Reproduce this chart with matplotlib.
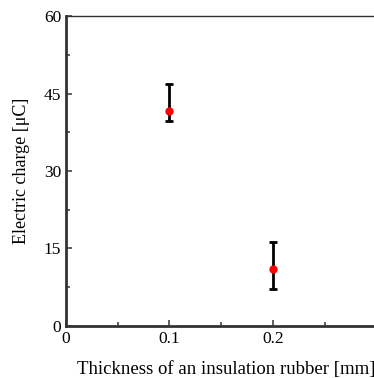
"""Electric charge vs. insulation rubber thickness."""

import matplotlib
matplotlib.use("Agg")
import matplotlib.pyplot as plt
from matplotlib.ticker import MultipleLocator

# Data
thickness = [0.1, 0.2]          # mm
charge = [41.6, 11.0]           # uC
err_low = [1.9, 3.8]
err_high = [5.2, 5.3]

plt.rcParams["font.family"] = ["Liberation Serif", "DejaVu Serif"]

fig = plt.figure(figsize=(3.74, 3.78), dpi=100)
ax = fig.add_axes([0.1765, 0.1376, 0.83, 0.82])

ax.errorbar(thickness, charge, yerr=[err_low, err_high], fmt="o",
            color="red", markersize=5, ecolor="black", elinewidth=2,
            capsize=3, capthick=2, zorder=3)

ax.set_xlim(0, 0.3)
ax.set_ylim(0, 60)
ax.xaxis.set_major_locator(MultipleLocator(0.1))
ax.xaxis.set_minor_locator(MultipleLocator(0.05))
ax.yaxis.set_major_locator(MultipleLocator(15))
ax.yaxis.set_minor_locator(MultipleLocator(7.5))
ax.set_xticks([0, 0.1, 0.2])
ax.set_xticklabels(["0", "0.1", "0.2"])

ax.tick_params(which="both", direction="in", top=False, right=False,
               labelsize=12.5, color="#444444")
ax.tick_params(which="major", length=4, width=1.2)
ax.tick_params(which="minor", length=3, width=1.2)

ax.spines["left"].set_linewidth(2)
ax.spines["bottom"].set_linewidth(2)
ax.spines["top"].set_linewidth(1)
ax.spines["right"].set_visible(False)
for s in ax.spines.values():
    s.set_color("#333333")

ax.set_xlabel("Thickness of an insulation rubber [mm]", fontsize=13.5,
              labelpad=10, x=0.516)
ax.set_ylabel("Electric charge [\u03bcC]", fontsize=13, labelpad=10)

fig.savefig("out.png", dpi=100)
plt.close(fig)
